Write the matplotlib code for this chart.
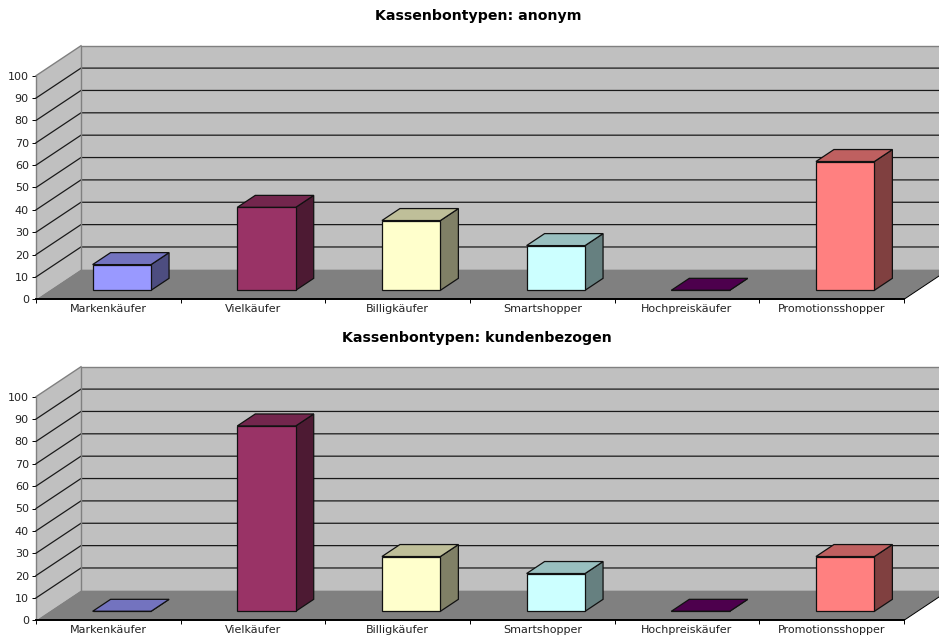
"""Two pseudo-3D column charts of receipt types, anonymous vs. customer-linked."""
import matplotlib
matplotlib.use("Agg")
import matplotlib.pyplot as plt
import numpy as np
from matplotlib.patches import Polygon

# the original text is a horizontally stretched Arial, DejaVu has the same proportions
plt.rcParams["font.family"] = ["DejaVu Sans"]

categories = ["Markenkäufer", "Vielkäufer", "Billigkäufer", "Smartshopper",
              "Hochpreiskäufer", "Promotionsshopper"]
anonym = [11.5, 37.1, 31.2, 20.0, 0.0, 57.6]
kundenbezogen = [0.0, 82.9, 24.5, 16.9, 0.0, 24.5]
colors = ["#9999FF", "#993366", "#FFFFCC", "#CCFFFF", "#660066", "#FF8080"]
y_ticks = list(range(0, 101, 10))

W, H = 939, 639
# full depth of the chart box, in axis units
DEPTH_X = 0.311
DEPTH_Y = 13.4
BAR_WIDTH = 0.404
BAR_D0, BAR_D1 = 0.3, 0.7


def pt(x, y, d=0.0):
    """Oblique projection: slide a point back by depth fraction d."""
    return (x + d * DEPTH_X, y + d * DEPTH_Y)


def shade(color, f):
    rgb = np.array(matplotlib.colors.to_rgb(color))
    return tuple(rgb * f)


def poly(ax, pts, fc, ec="none", lw=0.0, z=1):
    ax.add_patch(Polygon(pts, closed=True, facecolor=fc, edgecolor=ec,
                         linewidth=lw, zorder=z, clip_on=False, joinstyle="miter"))


def draw_box(ax):
    xmax = len(categories)
    poly(ax, [pt(0, 0, 1), pt(xmax, 0, 1), pt(xmax, 100, 1), pt(0, 100, 1)], "#C0C0C0", z=1)
    poly(ax, [pt(0, 0), pt(0, 0, 1), pt(0, 100, 1), pt(0, 100)], "#C0C0C0", z=1)
    poly(ax, [pt(0, 0), pt(xmax, 0), pt(xmax, 0, 1), pt(0, 0, 1)], "#808080", z=2)
    for v in y_ticks[1:-1]:
        x0, y0 = pt(0, v)
        x1, y1 = pt(0, v, 1)
        x2, y2 = pt(xmax, v, 1)
        ax.plot([x0, x1, x2], [y0, y1, y1], color="#1a1a1a", lw=0.9, zorder=3,
                clip_on=False, solid_joinstyle="miter")
    # gray outline of the walls
    x0, y0 = pt(0, 0, 1)
    x1, y1 = pt(0, 100, 1)
    x2, y2 = pt(0, 100)
    x3, y3 = pt(xmax, 100, 1)
    ax.plot([x0, x1, x3], [y0, y1, y1], color="#808080", lw=1.0, zorder=3, clip_on=False)
    ax.plot([x2, x1], [y2, y1], color="#808080", lw=1.0, zorder=3, clip_on=False)
    x4, y4 = pt(xmax, 0)
    x5, y5 = pt(xmax, 0, 1)
    ax.plot([x4, x5], [y4, y5], color="black", lw=0.7, zorder=3, clip_on=False)


def draw_bar(ax, i, value, color):
    x0 = i + 0.5 - BAR_WIDTH / 2
    x1 = i + 0.5 + BAR_WIDTH / 2
    edge = {"ec": "#111111", "lw": 0.9}
    poly(ax, [pt(x1, 0, BAR_D0), pt(x1, 0, BAR_D1), pt(x1, value, BAR_D1), pt(x1, value, BAR_D0)],
         shade(color, 0.5), z=5, **edge)
    poly(ax, [pt(x0, value, BAR_D0), pt(x1, value, BAR_D0), pt(x1, value, BAR_D1), pt(x0, value, BAR_D1)],
         shade(color, 0.75), z=5, **edge)
    poly(ax, [pt(x0, 0, BAR_D0), pt(x1, 0, BAR_D0), pt(x1, value, BAR_D0), pt(x0, value, BAR_D0)],
         color, z=6, **edge)


def panel(fig, y_zero, y_hundred, values):
    rect = [36 / W, 1 - y_zero / H, 868 / W, (y_zero - y_hundred) / H]
    ax = fig.add_axes(rect, facecolor="none")
    ax.set_xlim(0, len(categories))
    ax.set_ylim(0, 100)
    draw_box(ax)
    for i, (value, color) in enumerate(zip(values, colors)):
        draw_bar(ax, i, value, color)
    ax.set_xticks(np.arange(len(categories) + 1))
    ax.set_xticklabels([])
    ax.set_xticks(np.arange(len(categories)) + 0.5, minor=True)
    ax.set_xticklabels(categories, minor=True, fontsize=8.0, color="#222222")
    ax.tick_params(axis="x", which="major", length=3, width=0.7)
    ax.tick_params(axis="x", which="minor", length=0, pad=3.2)
    ax.set_yticks(y_ticks)
    ax.tick_params(axis="y", length=3, width=0.7, labelsize=8, pad=2.2, labelcolor="#222222")
    for s in ("top", "right"):
        ax.spines[s].set_visible(False)
    ax.spines["bottom"].set_linewidth(1.4)
    ax.spines["bottom"].set_zorder(4)
    ax.spines["left"].set_color("#808080")
    ax.spines["left"].set_linewidth(1.0)
    return ax


fig = plt.figure(figsize=(W / 100, H / 100), dpi=100, facecolor="white")
panel(fig, 299.3, 75.7, anonym)
panel(fig, 620.3, 396.7, kundenbezogen)
fig.text(478 / W, 1 - 16 / H, "Kassenbontypen: anonym", ha="center", va="center",
         fontsize=10.2, fontweight="bold")
fig.text(477 / W, 1 - 338 / H, "Kassenbontypen: kundenbezogen", ha="center", va="center",
         fontsize=10.2, fontweight="bold")
fig.savefig("out.png", dpi=100)
